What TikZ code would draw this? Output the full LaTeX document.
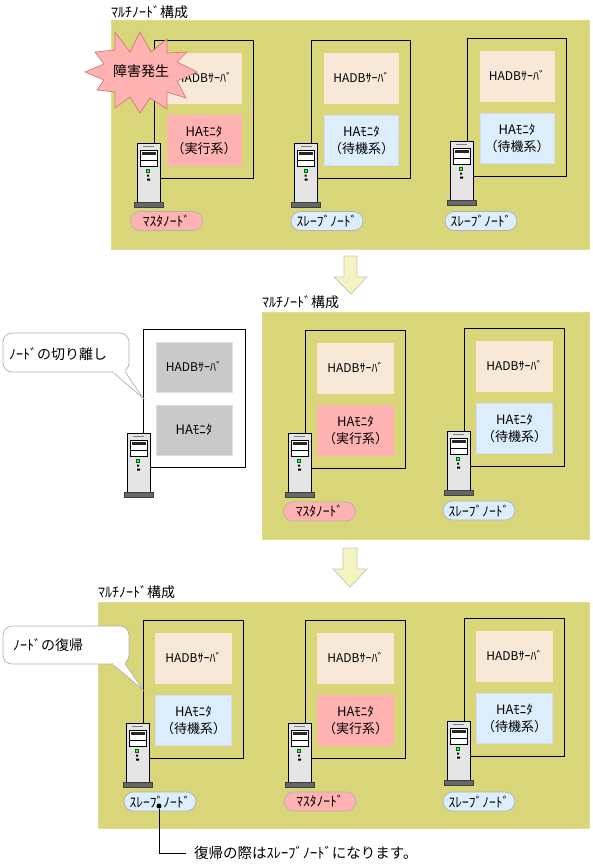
\documentclass[tikz,border=0pt]{standalone}
\usepackage{fontspec}
\setmainfont{Noto Sans CJK JP}
\usepackage{xcolor}
\usetikzlibrary{arrows.meta,positioning,calc}
\definecolor{panelfill}{HTML}{D8D678}
\definecolor{dbfill}{HTML}{F8E8D8}
\definecolor{runfill}{HTML}{FFB2B2}
\definecolor{waitfill}{HTML}{DCEEFC}
\definecolor{arrowfill}{HTML}{F4F4C0}
\newcommand{\hostw}{100}
\newcommand{\innerw}{76}
% one host: outline, two inner boxes, server
\newcommand{\serverpc}[3]{%
  \node[pcbody] (#1) at (#2+11.5,#3+29.5) {};
  \node[pcbase] (#1base) at (#2+11.5,#3+61.5) {};
  \fill[gray] (#2+6,#3+3) rectangle (#2+17,#3+3.8);
  \draw[fill=white,line width=.7pt] (#2+3,#3+7) rectangle (#2+20,#3+23);
  \fill[black!85] (#2+4.5,#3+8.5) rectangle (#2+18.5,#3+11.5);
  \draw[line width=.6pt] (#2+3,#3+17) -- (#2+20,#3+17);
  \draw[fill=green!70!white,draw=green!40!black,line width=.5pt] (#2+9.5,#3+26) rectangle (#2+12.5,#3+29);
  \fill (#2+10,#3+31.5) rectangle (#2+12,#3+33.5) (#2+10,#3+35.5) rectangle (#2+13,#3+37.5);
}
\newcommand{\hostgroup}[5]{%
  \node[hostbox,minimum width=\hostw pt] (#1) at (#2+\hostw/2,#3+69) {};
  \node[innerbox,fill=dbfill,draw=orange!20,minimum width=\innerw pt,font=\fontsize{12}{15}\selectfont] (#1db) at (#2+\hostw/2+.5,#3+38) {HADBｻｰﾊﾞ};
  \node[innerbox,#4,minimum width=\innerw pt] (#1mon) at (#2+\hostw/2+.5,#3+100) {#5};
  \serverpc{#1pc}{#2-17}{#3+103}
}
\begin{document}
\begin{tikzpicture}[x=1pt,y=-1pt,
    panel/.style={fill=panelfill,draw=panelfill!85!white,line width=.8pt},
    hostbox/.style={draw=black,line width=1pt,minimum width=100pt,minimum height=138pt,inner sep=0pt},
    innerbox/.style={minimum width=75pt,minimum height=50pt,inner sep=0pt,line width=.8pt,align=center,font=\fontsize{13}{17}\selectfont},
    runbox/.style={fill=runfill,draw=red!30},
    waitbox/.style={fill=waitfill,draw=blue!15},
    greybox/.style={fill=black!21,draw=black!12},
    pcbody/.style={draw=black,fill=black!10,line width=.9pt,minimum width=23pt,minimum height=59pt,inner sep=0pt},
    pcbase/.style={draw=black!75,fill=black!60,line width=.6pt,minimum width=29pt,minimum height=5pt,inner sep=0pt},
    pill/.style={rounded corners=9.5pt,draw=black!30,line width=.7pt,minimum width=72pt,minimum height=19pt,inner sep=0pt,font=\fontsize{13.5}{14}\selectfont},
    title/.style={anchor=west,inner sep=0pt,font=\fontsize{14}{15}\selectfont},
    callout/.style={draw=black!30,fill=white,line width=.7pt,rounded corners=9pt},
    saytext/.style={anchor=west,inner sep=0pt,font=\fontsize{14}{15}\selectfont},
    downarrow/.style={fill=arrowfill,draw=black!22,line width=.8pt}]
  \useasboundingbox (0,0) rectangle (593,865);
  % first state
  \node[title] (titlea) at (111,12) {ﾏﾙﾁﾉｰﾄﾞ構成};
  \node[panel,minimum width=478pt,minimum height=229pt,inner sep=0pt] (panela) at (350,134.5) {};
  \renewcommand{\hostw}{99}
  \renewcommand{\innerw}{74}
  \hostgroup{hostaa}{154}{40}{runbox}{HAﾓﾆﾀ\\（実行系）}
  \hostgroup{hostab}{311.5}{40}{waitbox}{HAﾓﾆﾀ\\（待機系）}
  \hostgroup{hostac}{467}{38}{waitbox}{HAﾓﾆﾀ\\（待機系）}
  \renewcommand{\hostw}{100}
  \renewcommand{\innerw}{76}
  \node[pill,fill=runfill] (pillaa) at (166.5,221) {ﾏｽﾀﾉｰﾄﾞ};
  \node[pill,fill=waitfill] (pillab) at (327,221) {ｽﾚｰﾌﾞﾉｰﾄﾞ};
  \node[pill,fill=waitfill] (pillac) at (481,221) {ｽﾚｰﾌﾞﾉｰﾄﾞ};
  \draw[fill=runfill,draw=red!45!gray!70,line width=.7pt]
    (115,32) -- (130,52) -- (140,32) -- (151,52) -- (167,39) -- (167,53) -- (187,52) -- (177,62)
    -- (197,72) -- (177,81) -- (186,98) -- (167,92) -- (167,109) -- (150,98) -- (140,113)
    -- (130,97) -- (115,108) -- (115,92) -- (97,90) -- (104,80) -- (85,72) -- (104,64) -- (95,52) -- (115,50) -- cycle;
  \node[inner sep=0pt,font=\fontsize{14}{15}\selectfont] (fault) at (141,71) {障害発生};
  \draw[downarrow] (344,256) -- (357,256) -- (357,277) -- (367,277) -- (351,294) -- (334,277) -- (344,277) -- cycle;
  % second state
  \node[title] (titleb) at (262,302) {ﾏﾙﾁﾉｰﾄﾞ構成};
  \node[panel,minimum width=327pt,minimum height=227pt,inner sep=0pt] (panelb) at (425.5,425.5) {};
  \node[hostbox,fill=white,minimum width=102pt] (cut) at (194,398.5) {};
  \node[innerbox,greybox,minimum width=76pt,font=\fontsize{12}{15}\selectfont] (cutdb) at (194,367) {HADBｻｰﾊﾞ};
  \node[innerbox,greybox,minimum width=76pt] (cutmon) at (194,430) {HAﾓﾆﾀ};
  \serverpc{cutpc}{127}{433}
  \draw[callout] (3,333) rectangle (129,372);
  \draw[draw=black!30,fill=white,line width=.7pt] (112,371.5) -- (143,398) -- (125,371.5);
  \fill[white] (112.5,370) rectangle (124.5,372.5);
  \node[saytext] (saycut) at (9,354) {ﾉｰﾄﾞの切り離し};
  \hostgroup{hostba}{305}{330}{runbox}{HAﾓﾆﾀ\\（実行系）}
  \hostgroup{hostbb}{464}{328}{waitbox}{HAﾓﾆﾀ\\（待機系）}
  \node[pill,fill=runfill] (pillba) at (319.5,511.5) {ﾏｽﾀﾉｰﾄﾞ};
  \node[pill,fill=waitfill] (pillbb) at (479,510.5) {ｽﾚｰﾌﾞﾉｰﾄﾞ};
  \draw[downarrow] (343,548) -- (357,548) -- (357,569) -- (367,569) -- (350,587) -- (333,569) -- (343,569) -- cycle;
  % third state
  \node[title] (titlec) at (98,592) {ﾏﾙﾁﾉｰﾄﾞ構成};
  \node[panel,minimum width=491pt,minimum height=226pt,inner sep=0pt] (panelc) at (343.5,715) {};
  \hostgroup{hostca}{143}{620}{waitbox}{HAﾓﾆﾀ\\（待機系）}
  \hostgroup{hostcb}{305}{620}{runbox}{HAﾓﾆﾀ\\（実行系）}
  \hostgroup{hostcc}{464}{618}{waitbox}{HAﾓﾆﾀ\\（待機系）}
  \node[pill,fill=waitfill] (pillca) at (160,801.5) {ｽﾚｰﾌﾞﾉｰﾄﾞ};
  \node[pill,fill=runfill] (pillcb) at (320,801.5) {ﾏｽﾀﾉｰﾄﾞ};
  \node[pill,fill=waitfill] (pillcc) at (479,801.5) {ｽﾚｰﾌﾞﾉｰﾄﾞ};
  \draw[callout] (3,626) rectangle (129,664);
  \draw[draw=black!30,fill=white,line width=.7pt] (112,663.5) -- (143,690) -- (125,663.5);
  \fill[white] (112.5,662) rectangle (124.5,664.5);
  \node[saytext] (sayback) at (13,645) {ﾉｰﾄﾞの復帰};
  \node[circle,fill=black,inner sep=0pt,minimum size=5pt] (dot) at (159,806) {};
  \node[anchor=west,inner sep=0pt,font=\fontsize{14.5}{16}\selectfont] (note) at (194,853) {復帰の際はｽﾚｰﾌﾞﾉｰﾄﾞになります。};
  \coordinate (noteend) at (186,853);
  \draw[line width=.7pt] (dot) |- (noteend);
\end{tikzpicture}
\end{document}
